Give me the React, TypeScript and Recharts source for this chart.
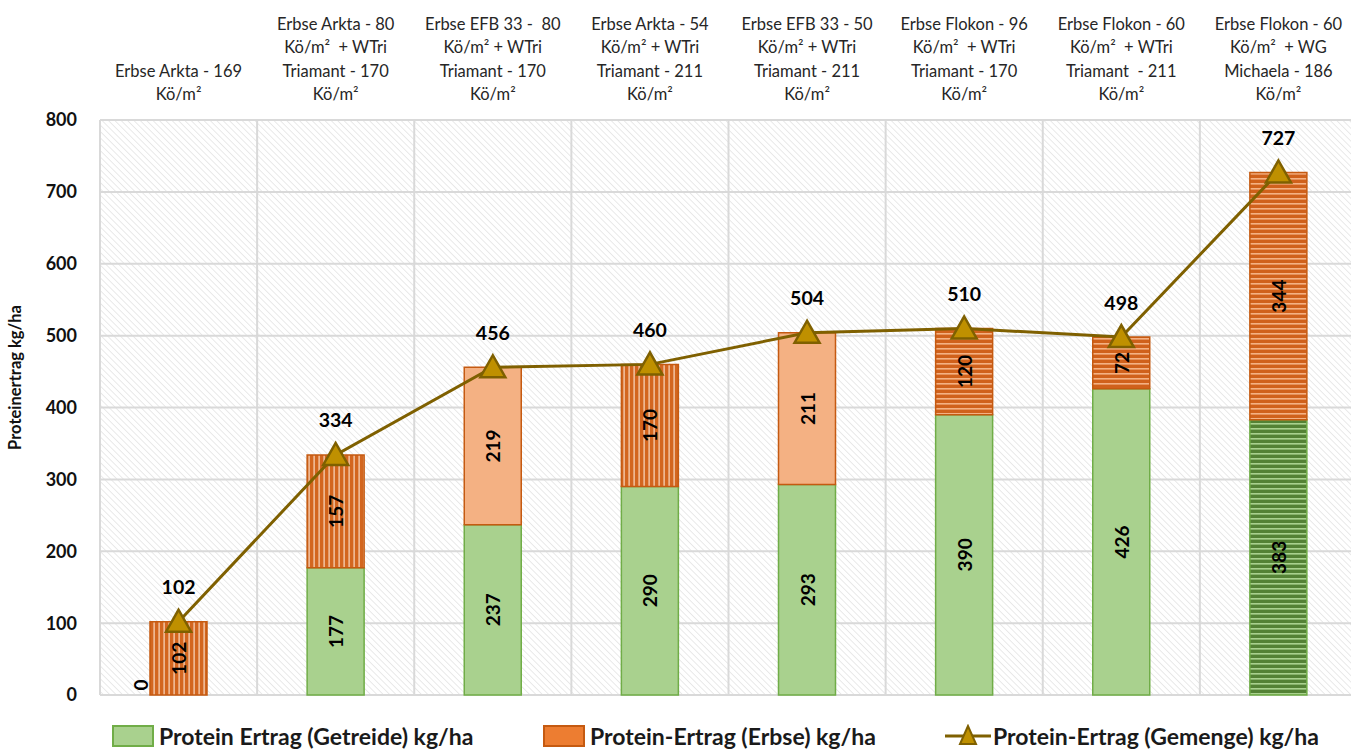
import React from "react";
import {
  ComposedChart,
  Bar,
  Line,
  XAxis,
  YAxis,
  CartesianGrid,
  Legend,
  LabelList,
  Cell,
} from "recharts";

const categories = [
  "Erbse Arkta - 169\nKö/m²",
  "Erbse Arkta - 80\nKö/m²  + WTri\nTriamant - 170\nKö/m²",
  "Erbse EFB 33 -  80\nKö/m² + WTri\nTriamant - 170\nKö/m²",
  "Erbse Arkta - 54\nKö/m² + WTri\nTriamant - 211\nKö/m²",
  "Erbse EFB 33 - 50\nKö/m² + WTri\nTriamant - 211\nKö/m²",
  "Erbse Flokon - 96\nKö/m²  + WTri\nTriamant - 170\nKö/m²",
  "Erbse Flokon - 60\nKö/m²  + WTri\nTriamant  - 211\nKö/m²",
  "Erbse Flokon - 60\nKö/m²  + WG\nMichaela - 186\nKö/m²",
];
const getreide = [0, 177, 237, 290, 293, 390, 426, 383];
const erbse = [102, 157, 219, 170, 211, 120, 72, 344];
const gemenge = [102, 334, 456, 460, 504, 510, 498, 727];
const yTicks = [0, 100, 200, 300, 400, 500, 600, 700, 800];

const seriesNames = {
  getreide: "Protein Ertrag (Getreide) kg/ha",
  erbse: "Protein-Ertrag (Erbse) kg/ha",
  gemenge: "Protein-Ertrag (Gemenge) kg/ha",
};

// style per category (pattern ids)
const getreideFills = ["#A9D18E", "#A9D18E", "#A9D18E", "#A9D18E", "#A9D18E", "#A9D18E", "#A9D18E", "url(#greenH)"];
const erbseFills = [
  "url(#orangeV)",
  "url(#orangeV)",
  "#F4B183",
  "url(#orangeV)",
  "#F4B183",
  "url(#orangeH)",
  "url(#orangeH)",
  "url(#orangeH)",
];

const data = categories.map((c, i) => ({
  name: c,
  getreide: getreide[i],
  erbse: erbse[i],
  gemenge: gemenge[i],
}));

const FONT = "Lato, 'Open Sans', sans-serif";
const LINE = "#7F6000";
const MARK = "#BF9000";

const CategoryTick = (props: any) => {
  const { x, payload } = props;
  const lines = String(payload.value).split("\n");
  const lh = 23.5;
  const baseY = 100;
  return (
    <g>
      {lines.map((l, i) => (
        <text
          key={i}
          x={x}
          y={baseY - (lines.length - 1 - i) * lh}
          textAnchor="middle"
          fontSize={16.5}
          fontFamily={FONT}
          fill="#262626"
          style={{ whiteSpace: "pre" }}
        >
          {l}
        </text>
      ))}
    </g>
  );
};

const BarValueLabel = (props: any) => {
  const { x, y, width, height, value } = props;
  if (!value) return null;
  const cx = x + width / 2;
  const cy = y + height / 2;
  return (
    <text
      x={cx}
      y={cy}
      transform={`rotate(-90 ${cx} ${cy})`}
      textAnchor="middle"
      dominantBaseline="central"
      fontSize={19}
      fontWeight="bold"
      fontFamily={FONT}
      fill="#000"
    >
      {value}
    </text>
  );
};

const ZeroLabel = (props: any) => {
  const { x, y, value } = props;
  if (value !== 0) return null;
  const cx = x - 38;
  const cy = y - 10;
  return (
    <text
      x={cx}
      y={cy}
      transform={`rotate(-90 ${cx} ${cy})`}
      textAnchor="middle"
      dominantBaseline="central"
      fontSize={19}
      fontWeight="bold"
      fontFamily={FONT}
      fill="#000"
    >
      {value}
    </text>
  );
};

const LineValueLabel = (props: any) => {
  const { x, y, value } = props;
  return (
    <text
      x={x}
      y={y - 35}
      textAnchor="middle"
      dominantBaseline="central"
      fontSize={19.5}
      fontWeight="bold"
      fontFamily={FONT}
      fill="#000"
    >
      {value}
    </text>
  );
};

const TriangleDot = (props: any) => {
  const { cx, cy } = props;
  if (cx == null || cy == null) return null;
  const w = 25;
  const h = 22;
  return (
    <polygon
      points={`${cx},${cy - h / 2 - 1} ${cx - w / 2},${cy + h / 2 - 1} ${cx + w / 2},${cy + h / 2 - 1}`}
      fill={MARK}
      stroke={LINE}
      strokeWidth={2.5}
      strokeLinejoin="miter"
    />
  );
};

const LegendContent = () => {
  const textStyle: React.CSSProperties = {
    fontFamily: FONT,
    fontWeight: "bold",
    fontSize: 23,
    color: "#1a1a1a",
    whiteSpace: "nowrap",
    lineHeight: "24px",
  };
  return (
    <div style={{ position: "relative", height: 50, width: 1351 }}>
      <div style={{ position: "absolute", left: 112, top: 29, display: "flex", alignItems: "center" }}>
        <div style={{ width: 38, height: 18, background: "#A9D18E", border: "2px solid #70AD47", marginRight: 5 }} />
        <span style={textStyle}>{seriesNames.getreide}</span>
      </div>
      <div style={{ position: "absolute", left: 543, top: 29, display: "flex", alignItems: "center" }}>
        <div style={{ width: 38, height: 18, background: "#ED7D31", border: "2px solid #C55A11", marginRight: 5 }} />
        <span style={textStyle}>{seriesNames.erbse}</span>
      </div>
      <div style={{ position: "absolute", left: 945, top: 29, display: "flex", alignItems: "center" }}>
        <svg width={46} height={24} style={{ marginRight: 2 }}>
          <line x1={0} y1={12} x2={46} y2={12} stroke={LINE} strokeWidth={3} />
          <polygon points="23,2 15,20 31,20" fill={MARK} stroke={LINE} strokeWidth={2} />
        </svg>
        <span style={textStyle}>{seriesNames.gemenge}</span>
      </div>
    </div>
  );
};

export default function App() {
  return (
    <div style={{ position: "absolute", left: 0, top: 0, width: 1351, height: 754, background: "#fff", overflow: "hidden" }}>
      <svg width={0} height={0} style={{ position: "absolute" }}>
        <defs>
          <pattern id="bgHatch" width="4.5" height="4.5" patternUnits="userSpaceOnUse" patternTransform="rotate(-45)">
            <rect width="4.5" height="4.5" fill="#ffffff" />
            <line x1="0" y1="0" x2="0" y2="4.5" stroke="#dedede" strokeWidth="1.3" />
          </pattern>
          <pattern id="orangeV" width="5" height="5" patternUnits="userSpaceOnUse">
            <rect width="5" height="5" fill="#D3661F" />
            <rect x="3.5" width="1.2" height="5" fill="#FAD9C2" />
          </pattern>
          <pattern id="orangeH" width="5" height="5" patternUnits="userSpaceOnUse">
            <rect width="5" height="5" fill="#D0611B" />
            <rect y="3" width="5" height="1.6" fill="#F4B183" />
          </pattern>
          <pattern id="greenH" width="5" height="5" patternUnits="userSpaceOnUse">
            <rect width="5" height="5" fill="#548235" />
            <rect y="3" width="5" height="1.6" fill="#A9D18E" />
          </pattern>
        </defs>
      </svg>
      <ComposedChart
        width={1357}
        height={754}
        data={data}
        margin={{ top: 0, right: 0, bottom: 9, left: 0 }}
        barSize={57}
        style={{ fontFamily: FONT }}
      >
        <CartesianGrid
          stroke="#d9d9d9"
          strokeWidth={2}
          fill="url(#bgHatch)"
          fillOpacity={1}
          verticalCoordinatesGenerator={(p: any) => {
            const { offset } = p;
            const arr: number[] = [];
            for (let i = 0; i <= categories.length; i++) arr.push(offset.left + (i * offset.width) / categories.length);
            return arr;
          }}
        />
        <XAxis
          dataKey="name"
          orientation="top"
          xAxisId={0}
          height={120}
          axisLine={false}
          tickLine={false}
          interval={0}
          tick={<CategoryTick />}
        />
        <YAxis
          width={100}
          domain={[0, 800]}
          ticks={yTicks}
          axisLine={false}
          tickLine={false}
          tickMargin={17}
          tick={{ fontSize: 18, fontWeight: "bold", fill: "#111", fontFamily: FONT }}
          label={{
            value: "Proteinertrag  kg/ha",
            angle: -90,
            position: "insideLeft",
            dx: 10,
            dy: -30,
            style: { fontSize: 16.5, fontWeight: "bold", fill: "#111", fontFamily: FONT, textAnchor: "middle", whiteSpace: "pre" },
          }}
        />
        <Legend verticalAlign="bottom" content={<LegendContent />} wrapperStyle={{ height: 50 }} />
        <Bar dataKey="getreide" name={seriesNames.getreide} stackId="a" fill="#A9D18E" stroke="#70AD47" strokeWidth={1.5} isAnimationActive={false}>
          {data.map((_, i) => (
            <Cell key={i} fill={getreideFills[i]} stroke="#70AD47" />
          ))}
          <LabelList dataKey="getreide" content={<BarValueLabel />} />
        </Bar>
        <Bar dataKey="erbse" name={seriesNames.erbse} stackId="a" fill="#ED7D31" stroke="#C55A11" strokeWidth={1.5} isAnimationActive={false}>
          {data.map((_, i) => (
            <Cell key={i} fill={erbseFills[i]} stroke="#C55A11" />
          ))}
          <LabelList dataKey="erbse" content={<BarValueLabel />} />
        </Bar>
        <Line
          dataKey="getreide"
          stroke="none"
          dot={false}
          activeDot={false}
          legendType="none"
          isAnimationActive={false}
        >
          <LabelList dataKey="getreide" content={<ZeroLabel />} />
        </Line>
        <Line
          dataKey="gemenge"
          name={seriesNames.gemenge}
          stroke={LINE}
          strokeWidth={3}
          dot={<TriangleDot />}
          activeDot={false}
          isAnimationActive={false}
        >
          <LabelList dataKey="gemenge" content={<LineValueLabel />} />
        </Line>
      </ComposedChart>
    </div>
  );
}
